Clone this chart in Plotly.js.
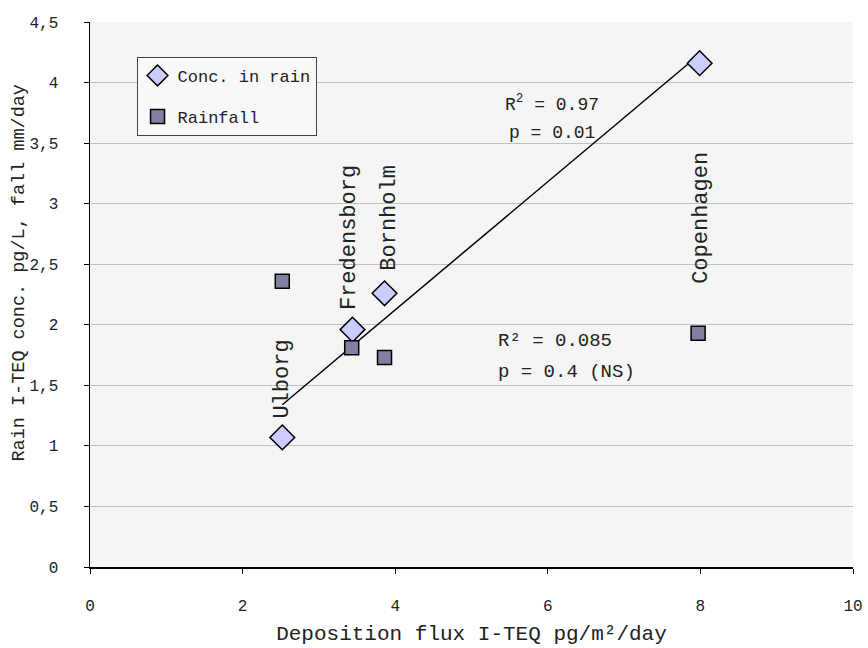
<!DOCTYPE html>
<html>
<head>
<meta charset="utf-8">
<script src="https://cdn.plot.ly/plotly-3.0.1.min.js"></script>
<style>html,body{margin:0;padding:0;background:#fff;}#chart{width:868px;height:648px;}</style>
</head>
<body>
<div id="chart"></div>
<script>
// Data
const sites = ["Ulborg", "Fredensborg", "Bornholm", "Copenhagen"];
const depositionFlux = [2.52, 3.44, 3.86, 7.99];
const concInRain = [1.07, 1.96, 2.26, 4.16];
const rainfallX = [2.52, 3.43, 3.86, 7.97];
const rainfall = [2.36, 1.81, 1.73, 1.93];
const yTickVals = [0, 0.5, 1, 1.5, 2, 2.5, 3, 3.5, 4, 4.5];
const yTickText = ["0", "0,5", "1", "1,5", "2", "2,5", "3", "3,5", "4", "4,5"];
const xTickVals = [0, 2, 4, 6, 8, 10];
const labelY = [1.55, 2.72, 2.88, 2.88];
const labelShift = [0, -3, 5, 2];
const yTitle = "Rain I-TEQ conc. pg/L, fall mm/day";
const xTitle = "Deposition flux I-TEQ pg/m²/day";

// linear regression (Excel-style trendline) for conc. in rain
function linreg(xs, ys) {
  const n = xs.length;
  const mx = xs.reduce((a, b) => a + b, 0) / n;
  const my = ys.reduce((a, b) => a + b, 0) / n;
  let sxy = 0, sxx = 0;
  for (let i = 0; i < n; i++) { sxy += (xs[i] - mx) * (ys[i] - my); sxx += (xs[i] - mx) ** 2; }
  const b = sxy / sxx;
  return { slope: b, intercept: my - b * mx };
}
const fit = linreg(depositionFlux, concInRain);
const xMin = Math.min(...depositionFlux), xMax = Math.max(...depositionFlux);
const trendX = [xMin, xMax];
const trendY = trendX.map(x => fit.intercept + fit.slope * x);

const FONT = "Liberation Mono, Courier New, monospace";
const TXT = "#222";

const traces = [
  {
    x: trendX, y: trendY, mode: "lines", type: "scatter",
    line: { color: "#000", width: 1.5 }, showlegend: false, hoverinfo: "skip"
  },
  {
    x: depositionFlux, y: concInRain, mode: "markers", type: "scatter", name: "Conc. in rain",
    legendgroup: "a",
    marker: { symbol: "diamond", size: 19, color: "#ccccff", line: { color: "#000", width: 1.5 } }
  },
  {
    x: rainfallX, y: rainfall, mode: "markers", type: "scatter", name: "Rainfall",
    legendgroup: "b",
    marker: { symbol: "square", size: 14, color: "#8080a0", line: { color: "#000", width: 1.5 } }
  }
];

const annotations = sites.map((s, i) => ({
  x: depositionFlux[i], y: labelY[i], xref: "x", yref: "y", text: s, showarrow: false,
  xshift: labelShift[i],
  textangle: -90, font: { family: FONT, size: 22, color: TXT }
}));
annotations.push(
  { x: 6.05, y: 3.83, xref: "x", yref: "y", text: "R<sup>2</sup> = 0.97", showarrow: false, font: { family: FONT, size: 18, color: TXT } },
  { x: 6.05, y: 3.58, xref: "x", yref: "y", text: "p = 0.01", showarrow: false, font: { family: FONT, size: 18, color: TXT } },
  { x: 5.32, y: 1.87, xref: "x", yref: "y", text: "R² = 0.085", showarrow: false, xanchor: "left", font: { family: FONT, size: 19, color: TXT } },
  { x: 5.32, y: 1.61, xref: "x", yref: "y", text: "p = 0.4 (NS)", showarrow: false, xanchor: "left", font: { family: FONT, size: 19, color: TXT } },
  { x: -0.092, y: 0.54, xref: "paper", yref: "paper", text: yTitle, showarrow: false, textangle: -90,
    xanchor: "center", yanchor: "middle", font: { family: FONT, size: 18.5, color: TXT } }
);

const layout = {
  width: 868, height: 648,
  margin: { l: 90, r: 15, t: 22, b: 81 },
  paper_bgcolor: "#ffffff",
  plot_bgcolor: "#f5f5f5",
  font: { family: FONT, size: 16, color: TXT },
  showlegend: true,
  legend: {
    x: 0.061, y: 0.936, xanchor: "left", yanchor: "top",
    bgcolor: "#f8f8f8", bordercolor: "#444", borderwidth: 1,
    traceorder: "grouped", tracegroupgap: 16,
    font: { family: FONT, size: 17, color: TXT }
  },
  xaxis: {
    range: [0, 10], tickvals: xTickVals, ticktext: xTickVals.map(String),
    showgrid: false, zeroline: false, showline: true, linecolor: "#000", linewidth: 1.5,
    ticks: "outside", ticklen: 5, tickcolor: "#000", ticklabelstandoff: 18,
    tickfont: { family: FONT, size: 16, color: TXT },
    title: { text: xTitle, font: { family: FONT, size: 21, color: TXT }, standoff: 10 }
  },
  yaxis: {
    range: [0, 4.5], tickvals: yTickVals, ticktext: yTickText,
    showgrid: true, gridcolor: "#c0c0c0", gridwidth: 1, zeroline: false,
    showline: true, linecolor: "#000", linewidth: 1.5,
    ticks: "outside", ticklen: 5, tickcolor: "#000", ticklabelstandoff: 22,
    tickfont: { family: FONT, size: 16, color: TXT }
  },
  annotations: annotations
};

Plotly.newPlot("chart", traces, layout, { displayModeBar: false, staticPlot: true });
</script>
</body>
</html>
